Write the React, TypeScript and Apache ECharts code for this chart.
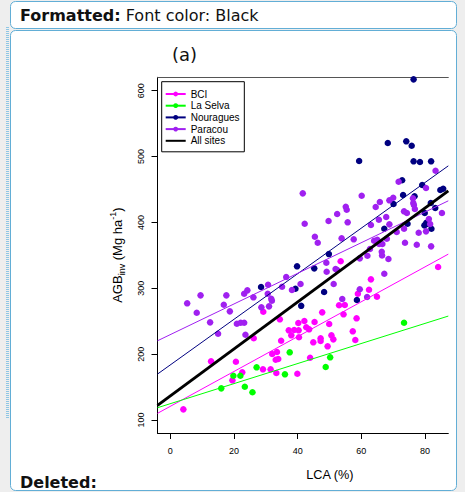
import React, { useEffect, useRef } from "react";
import * as echarts from "echarts";

// Sites, in legend order, with their R-style colours
const siteNames = ["BCI", "La Selva", "Nouragues", "Paracou"];
const siteColors = ["#ff00ff", "#00ff00", "#000080", "#a020f0"];
const allSitesName = "All sites";

// LCA (%) vs AGB_inv (Mg/ha) for each plot
const bciPoints = [
  [4.1, 116.2], [12.8, 189.1], [20.6, 188.5], [19.5, 160.3], [22.6, 172.4], [26.2, 224.1],
  [29.2, 264.4], [29.1, 177.0], [31.5, 177.0], [34.4, 252.9], [34.8, 220.4], [32.0, 200.2],
  [33.5, 203.2], [33.1, 191.6], [33.9, 192.6], [33.3, 171.4], [37.2, 236.2], [38.9, 236.7],
  [40.3, 236.2], [38.0, 228.6], [40.4, 225.6], [40.2, 247.3], [42.1, 250.3], [39.9, 170.3],
  [53.5, 341.0], [63.0, 313.6], [62.4, 297.8], [58.9, 291.8], [64.9, 287.2], [53.0, 274.2],
  [54.8, 274.6], [54.4, 260.5], [47.7, 263.5], [58.5, 254.4], [45.3, 248.8], [42.7, 240.8],
  [43.6, 237.7], [49.9, 245.8], [57.3, 234.7], [50.6, 228.6], [51.2, 222.5], [47.2, 224.1],
  [47.2, 220.0], [44.9, 218.0], [58.1, 221.5], [49.4, 211.9], [43.9, 194.6], [84.1, 332.3],
];

const laSelvaPoints = [
  [16.0, 148.1], [19.8, 167.3], [22.0, 167.3], [23.4, 150.6], [25.8, 142.1], [27.1, 180.0],
  [36.0, 169.4], [37.5, 202.8], [73.4, 247.7], [50.2, 195.2], [48.8, 180.5],
];

const nouraguesPoints = [
  [76.4, 617.3], [68.3, 520.6], [74.1, 523.2], [75.8, 516.5], [59.3, 493.3], [76.4, 492.8],
  [78.4, 491.7], [81.9, 492.8], [72.8, 464.0], [79.1, 456.8], [84.8, 449.2], [85.7, 451.2],
  [73.1, 441.6], [76.7, 439.7], [70.1, 428.0], [81.8, 429.5], [83.2, 421.9], [79.9, 414.3],
  [74.5, 398.1], [80.4, 399.6], [79.8, 395.6], [80.6, 397.6], [67.2, 390.5], [82.0, 390.5],
  [49.8, 352.0], [45.2, 330.3], [48.3, 294.4], [41.1, 273.4], [58.6, 282.2], [28.5, 301.9],
  [39.8, 333.4], [39.3, 299.4],
];

const paracouPoints = [
  [5.3, 277.2], [9.5, 289.3], [8.3, 262.9], [12.5, 248.3], [15.0, 231.0], [17.6, 289.3],
  [16.8, 275.1], [18.7, 265.0], [20.9, 246.2], [22.1, 247.7], [23.2, 247.7], [23.6, 229.5],
  [23.2, 291.8], [24.2, 296.9], [26.1, 286.3], [30.7, 305.4], [30.6, 291.8], [31.9, 281.1],
  [31.7, 284.2], [28.6, 271.1], [31.0, 272.6], [35.1, 302.4], [36.4, 317.1], [38.2, 297.4],
  [40.9, 306.5], [41.6, 444.2], [42.2, 398.1], [83.3, 478.5], [71.7, 461.8], [80.3, 452.3],
  [60.1, 440.6], [68.8, 433.6], [70.0, 437.5], [65.8, 431.0], [64.5, 423.4], [76.2, 436.6],
  [76.3, 429.5], [76.5, 426.5], [76.8, 420.4], [55.1, 423.9], [55.4, 419.3], [52.4, 412.8],
  [73.4, 416.9], [74.3, 414.3], [67.8, 408.2], [65.5, 404.1], [49.7, 402.2], [55.7, 400.2],
  [68.8, 397.1], [85.3, 414.3], [81.2, 405.2], [81.6, 397.6], [63.0, 396.1], [73.4, 390.5],
  [71.1, 385.5], [78.0, 384.4], [80.3, 386.5], [45.4, 378.3], [46.3, 369.2], [53.8, 375.9],
  [57.6, 374.4], [68.0, 375.3], [64.0, 372.2], [65.0, 373.8], [66.6, 367.2], [65.6, 367.2],
  [73.7, 369.2], [77.4, 366.2], [81.9, 363.7], [66.4, 355.5], [62.7, 359.6], [49.0, 338.8],
  [49.1, 325.2], [51.9, 329.3], [52.4, 327.8], [51.3, 306.5], [59.5, 345.5], [61.9, 349.5],
  [66.5, 349.8], [68.5, 344.5], [67.2, 322.1], [54.0, 283.7], [59.5, 298.5], [61.8, 286.8],
];

const sitePoints = [bciPoints, laSelvaPoints, nouraguesPoints, paracouPoints];

// Linear fits (intercept, slope): BCI, La Selva, Nouragues, Paracou, All sites
const fitIntercepts = [120.8, 124.8, 183.7, 229.7, 136.6];
const fitSlopes = [2.647, 1.524, 3.462, 2.327, 3.567];

// Axis ticks and visible window
const xTicks = [0, 20, 40, 60, 80];
const yTicks = [100, 200, 300, 400, 500, 600];
const xMin = -4.02;
const xMax = 87.3;
const yMin = 80.3;
const yMax = 620.4;

const plotFont = "Liberation Sans, Arial, sans-serif";
const uiFont = "DejaVu Sans, sans-serif";
const panelBlue = "#62aed6";

function fitLine(i: number) {
  const a = fitIntercepts[i];
  const b = fitSlopes[i];
  return [
    [xMin, a + b * xMin],
    [xMax, a + b * xMax],
  ];
}

export default function App() {
  const ref = useRef<HTMLDivElement>(null);

  useEffect(() => {
    if (!ref.current) return;
    const chart = echarts.init(ref.current, null, { renderer: "svg" });

    const lineSeries: any[] = siteNames.map((name, i) => ({
      type: "line",
      name,
      data: fitLine(i),
      symbol: "circle",
      showSymbol: false,
      lineStyle: { color: siteColors[i], width: 1 },
      itemStyle: { color: siteColors[i] },
      silent: true,
      z: 3,
    }));
    lineSeries.push({
      type: "line",
      name: allSitesName,
      data: fitLine(4),
      symbol: "none",
      lineStyle: { color: "#000", width: 3 },
      itemStyle: { color: "#000" },
      silent: true,
      z: 4,
    });

    const scatterSeries = siteNames.map((name, i) => ({
      type: "scatter",
      name,
      data: sitePoints[i],
      symbol: "circle",
      symbolSize: 6.5,
      itemStyle: { color: siteColors[i], opacity: 1 },
      silent: true,
      z: 2,
    }));

    chart.setOption({
      animation: false,
      backgroundColor: "#eeeeee",
      title: {
        text: "(a)",
        left: 172,
        top: 45,
        padding: 0,
        textStyle: { fontFamily: uiFont, fontSize: 18, fontWeight: "normal", color: "#111" },
      },
      graphic: [
        {
          type: "rect",
          z: -10,
          shape: { x: 10.5, y: 1.5, width: 446, height: 27, r: 5 },
          style: { fill: "#fff", stroke: panelBlue, lineWidth: 1 },
        },
        {
          type: "rect",
          z: -10,
          shape: { x: 10.5, y: 30.5, width: 446, height: 460, r: 5 },
          style: { fill: "#fff", stroke: panelBlue, lineWidth: 1 },
        },
        {
          type: "line",
          z: -10,
          shape: { x1: 7.5, y1: 27, x2: 7.5, y2: 418 },
          style: { stroke: "#8fc6e4", lineWidth: 3, lineDash: [1, 1] },
        },
        {
          type: "text",
          z: 10,
          x: 20,
          y: 15,
          style: {
            text: "{b|Formatted:} Font color: Black",
            fontFamily: uiFont,
            fontSize: 16,
            fill: "#111",
            verticalAlign: "middle",
            rich: { b: { fontFamily: uiFont, fontSize: 16, fontWeight: "bold", fill: "#111" } },
          },
        },
        {
          type: "text",
          z: 10,
          x: 20,
          y: 482,
          style: {
            text: "Deleted:",
            fontFamily: uiFont,
            fontSize: 16,
            fontWeight: "bold",
            fill: "#111",
            verticalAlign: "middle",
          },
        },
      ],
      legend: {
        orient: "vertical",
        left: 161.7,
        top: 81.7,
        padding: [6.45, 4.7, 5.15, 3],
        itemWidth: 20,
        itemHeight: 6,
        itemGap: 0,
        borderColor: "#000",
        borderWidth: 1,
        borderRadius: 0,
        backgroundColor: "#fff",
        selectedMode: false,
        textStyle: { fontFamily: plotFont, fontSize: 10, color: "#000", lineHeight: 11.7 },
        data: [...siteNames, { name: allSitesName, itemStyle: { opacity: 0 } }],
      },
      grid: { left: 157.5, top: 77.3, width: 290.8, height: 355.7, containLabel: false },
      xAxis: [
        {
          type: "value",
          min: xMin,
          max: xMax,
          position: "bottom",
          axisLine: { show: true, onZero: false, lineStyle: { color: "#000", width: 1 } },
          axisTick: { show: true, inside: false, length: 6, customValues: xTicks, lineStyle: { color: "#000" } },
          axisLabel: { customValues: xTicks, margin: 13, fontSize: 9, fontFamily: plotFont, color: "#000" },
          splitLine: { show: false },
          name: "LCA (%)",
          nameLocation: "middle",
          nameGap: 35,
          nameTextStyle: { fontFamily: plotFont, fontSize: 12.7, color: "#000", padding: [0, 0, 0, 54] },
        },
        {
          type: "value",
          min: xMin,
          max: xMax,
          position: "top",
          axisLine: { show: true, onZero: false, lineStyle: { color: "#555", width: 1 } },
          axisTick: { show: false },
          axisLabel: { show: false },
          splitLine: { show: false },
        },
      ],
      yAxis: {
        type: "value",
        min: yMin,
        max: yMax,
        axisLine: { show: true, onZero: false, lineStyle: { color: "#000", width: 1 } },
        axisTick: { show: true, inside: false, length: 6, customValues: yTicks, lineStyle: { color: "#000" } },
        axisLabel: { customValues: yTicks, rotate: 90, margin: 12, fontSize: 9, fontFamily: plotFont, color: "#000" },
        splitLine: { show: false },
        name: "{n|AGB}{sub|inv}{n| (Mg ha}{sup|-1}{n|)}",
        nameLocation: "middle",
        nameRotate: 90,
        nameGap: 31,
        nameTextStyle: {
          fontFamily: plotFont,
          fontSize: 13,
          color: "#000",
          rich: {
            n: { fontFamily: plotFont, fontSize: 13, color: "#000", lineHeight: 18 },
            sub: { fontFamily: plotFont, fontSize: 9, color: "#000", lineHeight: 9, verticalAlign: "bottom" },
            sup: { fontFamily: plotFont, fontSize: 9, color: "#000", lineHeight: 9, verticalAlign: "top" },
          },
        },
      },
      series: [...lineSeries, ...scatterSeries],
    });

    return () => chart.dispose();
  }, []);

  return (
    <div
      ref={ref}
      style={{ position: "fixed", left: 0, top: 0, width: 465, height: 492 }}
    />
  );
}
